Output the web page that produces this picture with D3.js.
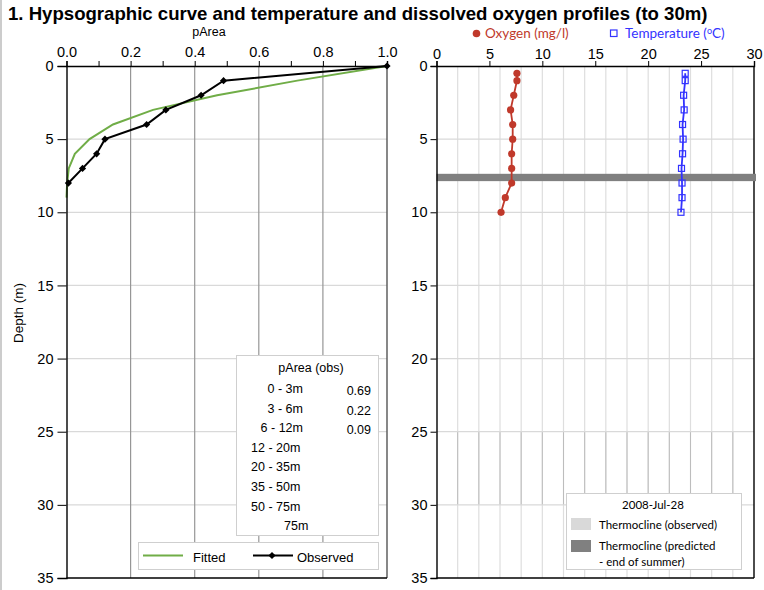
<!DOCTYPE html>
<html><head><meta charset="utf-8">
<script src="https://cdn.jsdelivr.net/npm/d3@7"></script>
<style>body{margin:0;background:#fff}svg{display:block}</style>
</head><body>
<svg id="c" width="764" height="590"></svg>
<script>
// ---- data ----
const depthObs = [0,1,2,3,4,5,6,7,8];
const pAreaObs = [1.0,0.49,0.42,0.31,0.25,0.12,0.094,0.05,0.006];
const depthFit = [0,1,2,3,4,5,6,7,8,9];
const pAreaFit = [1.0,0.72,0.47,0.27,0.145,0.072,0.026,0.007,0.002,0];
const profileDepth = [0.5,1,2,3,4,5,6,7,8,9,10];
const oxygen = [7.6,7.6,7.3,7.0,7.2,7.2,7.1,7.1,7.1,6.5,6.1];
const temperature = [23.5,23.5,23.35,23.4,23.25,23.3,23.25,23.15,23.2,23.2,23.1];
const thermoPredicted = [7.37,7.87];
const depthTicks = [0,5,10,15,20,25,30,35];
const pAreaTicks = [0,0.2,0.4,0.6,0.8,1.0];
const profileTicks = [0,5,10,15,20,25,30];
const tableRanges = ["0 - 3m","3 - 6m","6 - 12m","12 - 20m","20 - 35m","35 - 50m","50 - 75m","75m"];
const tableValues = ["0.69","0.22","0.09"];
const sampleDate = "2008-Jul-28";

const svg = d3.select("#c");
const AR = "Liberation Sans, Arial, sans-serif";
const CAL = "Lato, 'Open Sans', sans-serif";

const yTop = 66, yBot = 578;
const y = d3.scaleLinear().domain([0,35]).range([yTop,yBot]);
const xL = d3.scaleLinear().domain([0,1]).range([66.5,387]);
const xR = d3.scaleLinear().domain([0,30]).range([436.5,754]);

// page border line on the left
svg.append("line").attr("x1",1).attr("x2",1).attr("y1",0).attr("y2",590).attr("stroke","#aaa").attr("stroke-width",1.2);

// title
svg.append("text").attr("x",8).attr("y",19.5).attr("font-family",AR).attr("font-weight","bold")
  .attr("font-size",18.6).attr("fill","#000")
  .text("1. Hypsographic curve and temperature and dissolved oxygen profiles (to 30m)");

// ---------- LEFT PANEL ----------
const gL = svg.append("g");
gL.selectAll(".hg").data(depthTicks.slice(1,-1)).join("line")
  .attr("x1",xL(0)).attr("x2",xL(1)).attr("y1",d=>y(d)).attr("y2",d=>y(d))
  .attr("stroke","#d9d9d9").attr("stroke-width",1.2);
gL.selectAll(".vg").data(pAreaTicks.slice(1,-1)).join("line")
  .attr("x1",d=>xL(d)).attr("x2",d=>xL(d)).attr("y1",yTop).attr("y2",yBot)
  .attr("stroke","#969696").attr("stroke-width",1.2);
gL.append("line").attr("x1",xL(1)).attr("x2",xL(1)).attr("y1",yTop).attr("y2",yBot).attr("stroke","#555").attr("stroke-width",1.4);
gL.append("line").attr("x1",xL(0)).attr("x2",xL(1)).attr("y1",yBot).attr("y2",yBot).attr("stroke","#000").attr("stroke-width",1.4);

const axTopL = d3.axisTop(xL).tickValues(d3.range(0,1.0001,0.1)).tickSize(5)
  .tickFormat(d=> (Math.round(d*10)%2===0) ? d3.format(".1f")(d) : "");
const gAxTL = svg.append("g").attr("transform",`translate(0,${yTop})`).call(axTopL);
gAxTL.selectAll("text").attr("font-family",AR).attr("font-size",14.5).attr("fill","#000").attr("dy",-1);
gAxTL.select(".domain").attr("stroke","#000").attr("stroke-width",1.4);
gAxTL.selectAll(".tick line").attr("stroke","#000");
const axLeftL = d3.axisLeft(y).tickValues(depthTicks).tickSize(9).tickPadding(4);
const gAxLL = svg.append("g").attr("transform",`translate(${xL(0)},0)`).call(axLeftL);
gAxLL.selectAll("text").attr("font-family",AR).attr("font-size",14.5).attr("fill","#000");
gAxLL.select(".domain").attr("stroke","#000").attr("stroke-width",1.4);
gAxLL.selectAll(".tick line").attr("stroke","#000");

svg.append("text").attr("x",209).attr("y",35.5).attr("text-anchor","middle").attr("font-family",AR).attr("font-size",12.5).text("pArea");
svg.append("text").attr("transform","translate(23,313) rotate(-90)").attr("text-anchor","middle")
  .attr("font-family",AR).attr("font-size",13.5).text("Depth (m)");

const lineL = d3.line().x(d=>xL(d[0])).y(d=>y(d[1]));
gL.append("path").datum(pAreaFit.map((v,i)=>[v,depthFit[i]])).attr("d",lineL)
  .attr("fill","none").attr("stroke","#70ad47").attr("stroke-width",2);
gL.append("path").datum(pAreaObs.map((v,i)=>[v,depthObs[i]])).attr("d",lineL)
  .attr("fill","none").attr("stroke","#000").attr("stroke-width",2);
const mark = d3.symbol().type(d3.symbolSquare).size(26);
gL.selectAll(".mk").data(pAreaObs.map((v,i)=>[v,depthObs[i]])).join("path")
  .attr("d",mark).attr("transform",d=>`translate(${xL(d[0])},${y(d[1])}) rotate(45)`).attr("fill","#000");

// table box
const tb = svg.append("g");
tb.append("rect").attr("x",236.5).attr("y",355.5).attr("width",142).attr("height",180).attr("fill","#fff").attr("stroke","#cfcfcf");
tb.append("text").attr("x",311).attr("y",372).attr("text-anchor","middle").attr("font-family",AR).attr("font-size",12.5).text("pArea (obs)");
tableRanges.forEach((t,i)=>{
  const yy = 393 + i*19.6;
  let x, anchor;
  if (i<3){x=303;anchor="end";} else if(i<7){x=251;anchor="start";} else {x=284;anchor="start";}
  tb.append("text").attr("x",x).attr("y",yy).attr("text-anchor",anchor).attr("font-family",AR).attr("font-size",12.5).text(t);
});
tableValues.forEach((t,i)=>{
  tb.append("text").attr("x",371).attr("y",395+i*19.6).attr("text-anchor","end").attr("font-family",AR).attr("font-size",12.5).text(t);
});

// left legend
const lg = svg.append("g");
lg.append("rect").attr("x",138.5).attr("y",542.5).attr("width",240).attr("height",27).attr("fill","#fff").attr("stroke","#cfcfcf");
lg.append("line").attr("x1",143).attr("x2",183).attr("y1",555.5).attr("y2",555.5).attr("stroke","#70ad47").attr("stroke-width",2);
lg.append("text").attr("x",193).attr("y",561.5).attr("font-family",AR).attr("font-size",13).text("Fitted");
lg.append("line").attr("x1",253).attr("x2",293).attr("y1",555.5).attr("y2",555.5).attr("stroke","#000").attr("stroke-width",2);
lg.append("path").attr("d",mark).attr("transform","translate(272,555.5) rotate(45)").attr("fill","#000");
lg.append("text").attr("x",297).attr("y",561.5).attr("font-family",AR).attr("font-size",13).text("Observed");

// ---------- RIGHT PANEL ----------
const gR = svg.append("g");
gR.selectAll(".vg").data(d3.range(2,30,2)).join("line")
  .attr("x1",d=>xR(d)).attr("x2",d=>xR(d)).attr("y1",yTop).attr("y2",yBot)
  .attr("stroke","#dedede").attr("stroke-width",1.2);
gR.selectAll(".vg2").data(d3.range(2,30,2)).join("line")
  .attr("x1",d=>xR(d)).attr("x2",d=>xR(d)).attr("y1",y(25)).attr("y2",y(30))
  .attr("stroke","#bdbdbd").attr("stroke-width",1);
gR.selectAll(".hg").data(depthTicks.slice(1,-1)).join("line")
  .attr("x1",xR(0)).attr("x2",xR(30)).attr("y1",d=>y(d)).attr("y2",d=>y(d))
  .attr("stroke","#d9d9d9").attr("stroke-width",1.2);
gR.append("line").attr("x1",xR(30)).attr("x2",xR(30)).attr("y1",yTop).attr("y2",yBot).attr("stroke","#000").attr("stroke-width",1.4);
gR.append("line").attr("x1",xR(0)).attr("x2",xR(30)).attr("y1",yBot).attr("y2",yBot).attr("stroke","#000").attr("stroke-width",1.4);

const axTopR = d3.axisTop(xR).tickValues(profileTicks).tickSize(5);
const gAxTR = svg.append("g").attr("transform",`translate(0,${yTop})`).call(axTopR);
gAxTR.selectAll("text").attr("font-family",AR).attr("font-size",14.5).attr("fill","#000").attr("dy",1);
gAxTR.select(".domain").attr("stroke","#000").attr("stroke-width",1.4);
gAxTR.selectAll(".tick line").attr("stroke","#000");
const axLeftR = d3.axisLeft(y).tickValues(depthTicks).tickSize(6).tickPadding(3);
const gAxLR = svg.append("g").attr("transform",`translate(${xR(0)},0)`).call(axLeftR);
gAxLR.selectAll("text").attr("font-family",AR).attr("font-size",14.5).attr("fill","#000");
gAxLR.select(".domain").attr("stroke","#000").attr("stroke-width",1.4);
gAxLR.selectAll(".tick line").attr("stroke","#000");

gR.append("rect").attr("x",xR(0)).attr("y",y(thermoPredicted[0])).attr("width",xR(30)-xR(0)+2)
  .attr("height",y(thermoPredicted[1])-y(thermoPredicted[0])).attr("fill","#808080");

const oxCol = "#c0392b", tCol = "#3333ff";
const lineO = d3.line().x(d=>xR(d[0])).y(d=>y(d[1]));
const oxPts = oxygen.map((v,i)=>[v,profileDepth[i]]);
const tPts = temperature.map((v,i)=>[v,profileDepth[i]]);
gR.append("path").datum(oxPts).attr("d",lineO).attr("fill","none").attr("stroke",oxCol).attr("stroke-width",1.8);
gR.selectAll(".om").data(oxPts).join("circle").attr("cx",d=>xR(d[0])).attr("cy",d=>y(d[1])).attr("r",3.6).attr("fill",oxCol);
gR.append("path").datum(tPts).attr("d",lineO).attr("fill","none").attr("stroke",tCol).attr("stroke-width",1.8);
gR.selectAll(".tm").data(tPts).join("rect").attr("x",d=>xR(d[0])-3).attr("y",d=>y(d[1])-3)
  .attr("width",6).attr("height",6).attr("fill","none").attr("stroke",tCol).attr("stroke-width",1.2);

// top legend
svg.append("circle").attr("cx",476.5).attr("cy",33.5).attr("r",3.8).attr("fill",oxCol);
svg.append("text").attr("x",485).attr("y",38).attr("font-family",CAL).attr("font-size",13.5).attr("fill",oxCol).text("Oxygen (mg/l)");
svg.append("rect").attr("x",610.5).attr("y",30).attr("width",6.5).attr("height",6.5).attr("fill","none").attr("stroke",tCol).attr("stroke-width",1.2);
const tt = svg.append("text").attr("x",625).attr("y",38).attr("font-family",CAL).attr("font-size",13.5).attr("fill",tCol);
tt.append("tspan").text("Temperature (");
tt.append("tspan").attr("font-size",9).attr("dy",-4).text("o");
tt.append("tspan").attr("dy",4).text("C)");

// right legend
const rl = svg.append("g");
rl.append("rect").attr("x",566.5).attr("y",493.5).attr("width",175).attr("height",76).attr("fill","#fff").attr("stroke","#cfcfcf");
rl.append("text").attr("x",653).attr("y",509).attr("text-anchor","middle").attr("font-family",CAL).attr("font-size",11.5).text(sampleDate);
rl.append("rect").attr("x",571).attr("y",518).attr("width",20).attr("height",12).attr("fill","#d9d9d9");
rl.append("text").attr("x",599).attr("y",528.5).attr("font-family",CAL).attr("font-size",11.5).text("Thermocline (observed)");
rl.append("rect").attr("x",571).attr("y",540).attr("width",20).attr("height",12).attr("fill","#808080");
rl.append("text").attr("x",599).attr("y",550).attr("font-family",CAL).attr("font-size",11.5).text("Thermocline (predicted");
rl.append("text").attr("x",599).attr("y",566).attr("font-family",CAL).attr("font-size",11.5).text("- end of summer)");
</script>
</body></html>
